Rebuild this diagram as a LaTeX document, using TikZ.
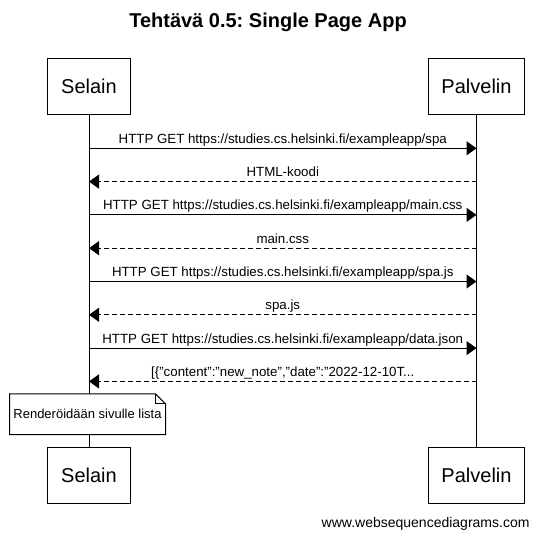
\documentclass[tikz,border=0pt]{standalone}
\usepackage{fontspec}
\setmainfont{Liberation Sans}
\usetikzlibrary{arrows.meta}
\frenchspacing

\begin{document}
\begin{tikzpicture}[x=1pt, y=-1pt, line width=1pt]

\tikzstyle{actor}=[draw, fill=white, inner sep=0pt, minimum height=56.5pt, font=\fontsize{20}{24}\selectfont]
\tikzstyle{msg}=[-{Triangle[length=10pt,width=14pt]}]
\tikzstyle{reply}=[msg, dash pattern=on 5pt off 3pt]
\tikzstyle{msgtext}=[anchor=base, yshift=5pt, inner sep=0pt, font=\fontsize{13.3}{15}\selectfont]

\useasboundingbox (0,0) rectangle (539,538);

\node (title) at (268,22) {\fontsize{20}{24}\selectfont\bfseries Teht\"av\"a 0.5: Single Page App};

\node (selTop)[actor, minimum width=83.5pt] at (89,86.3)  {Selain};
\node (palTop)[actor, minimum width=96.5pt] at (476.5,86.3) {Palvelin};
\node (selBot)[actor, minimum width=83.5pt] at (89,475.7) {Selain};
\node (palBot)[actor, minimum width=96.5pt] at (476.5,475.7) {Palvelin};

\draw (selTop) -- (selBot);
\draw (palTop) -- (palBot);

\coordinate (s1) at (89,148.3);    \coordinate (p1) at (476.5,148.3);
\coordinate (s2) at (89,181.6);    \coordinate (p2) at (476.5,181.6);
\coordinate (s3) at (89,214.9);    \coordinate (p3) at (476.5,214.9);
\coordinate (s4) at (89,248.2);    \coordinate (p4) at (476.5,248.2);
\coordinate (s5) at (89,281.5);    \coordinate (p5) at (476.5,281.5);
\coordinate (s6) at (89,314.8);    \coordinate (p6) at (476.5,314.8);
\coordinate (s7) at (89,348.1);    \coordinate (p7) at (476.5,348.1);
\coordinate (s8) at (89,381.4);    \coordinate (p8) at (476.5,381.4);

\draw [msg]   (s1) -- node [msgtext] {HTTP GET https://studies.cs.helsinki.fi/exampleapp/spa} (p1);
\draw [reply] (p2) -- node [msgtext] {HTML-koodi} (s2);
\draw [msg]   (s3) -- node [msgtext] {HTTP GET https://studies.cs.helsinki.fi/exampleapp/main.css} (p3);
\draw [reply] (p4) -- node [msgtext] {main.css} (s4);
\draw [msg]   (s5) -- node [msgtext] {HTTP GET https://studies.cs.helsinki.fi/exampleapp/spa.js} (p5);
\draw [reply] (p6) -- node [msgtext] {spa.js} (s6);
\draw [msg]   (s7) -- node [msgtext] {HTTP GET https://studies.cs.helsinki.fi/exampleapp/data.json} (p7);
\draw [reply] (p8) -- node [msgtext] {[\{"content":"new\_note","date":"2022-12-10T...} (s8);

% note on the browser lifeline
\node (note)[fill=white, inner sep=0pt, minimum width=155pt, minimum height=39.7pt, font=\fontsize{13}{15}\selectfont] at (87.5,414.2) {Render\"oid\"a\"an sivulle lista};
\draw (note.north west) -- ([xshift=-10pt]note.north east) -- ([yshift=-10pt]note.north east) -- (note.south east) -- (note.south west) -- cycle;
\draw ([xshift=-10pt]note.north east) |- ([yshift=-10pt]note.north east);

\node (footer)[anchor=base east, inner sep=0pt, font=\fontsize{14}{16}\selectfont] at (530,527) {www.websequencediagrams.com};

\end{tikzpicture}
\end{document}
